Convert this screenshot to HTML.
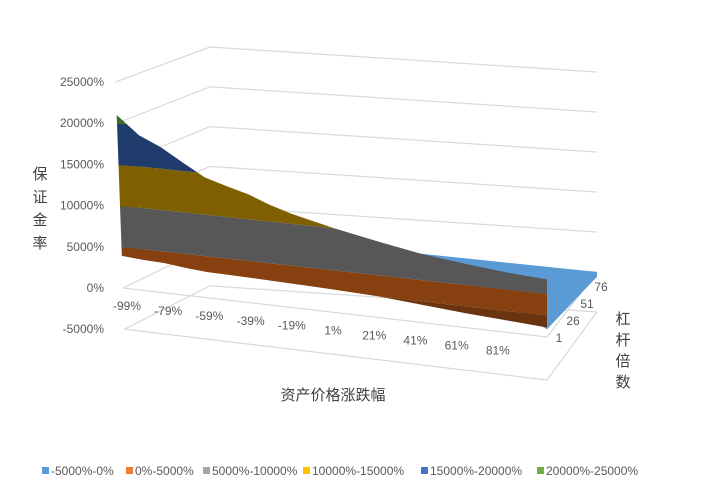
<!DOCTYPE html>
<html><head><meta charset="utf-8">
<style>
html,body{margin:0;padding:0;background:#fff;}
body{width:725px;height:504px;overflow:hidden;position:relative;font-family:"Liberation Sans","Noto Sans CJK SC",sans-serif;}
svg{position:absolute;left:0;top:0;}
.lbl{font-family:"Liberation Sans","Noto Sans CJK SC",sans-serif;font-size:12px;fill:#595959;}
.ttl{font-family:"Liberation Sans","Noto Sans CJK SC",sans-serif;font-size:15px;fill:#404040;}
</style></head>
<body>
<svg id="chart" width="725" height="504" viewBox="0 0 725 504" xmlns="http://www.w3.org/2000/svg">
<defs><clipPath id="curtainClip"><path id="clipPath" d=""/></clipPath></defs>
<g id="grid"></g>
<g id="surface"></g>
<g id="labels"></g>
<g id="legend"></g>
</svg>
<script>
const zTicks = [25000, 20000, 15000, 10000, 5000, 0, -5000];
const zTickLabels = ["25000%","20000%","15000%","10000%","5000%","0%","-5000%"];
const priceCats = [-99,-89,-79,-69,-59,-49,-39,-29,-19,-9,1,21,41,61,81,100];
const topZ = [21000,18800,17600,16000,14500,13700,13000,12000,11200,10600,10000,9000,8100,7500,7000,6700];
const bottomZ = [3900,3700,3600,3300,3100,3050,3000,2920,2850,2780,2700,2500,2100,1700,1400,1100];
const xTickLabels = ["-99%","-79%","-59%","-39%","-19%","1%","21%","41%","61%","81%"];
const xTickValues = [-99,-79,-59,-39,-19,1,21,41,61,81];
const depthLabels = ["1","26","51","76"];
const bandLows = [-5000,0,2500,5000,10000,15000,20000];
const bandHighs = [0,2500,5000,10000,15000,20000,25000];
const bandColors = ["#5b9bd5","#6b3410","#87400f","#575757","#7f6000","#203c6c","#3d6b2a"];
const legendNames = ["-5000%-0%","0%-5000%","5000%-10000%","10000%-15000%","15000%-20000%","20000%-25000%"];
const legendColors = ["#5b9bd5","#ed7d31","#a5a5a5","#ffc000","#4472c4","#70ad47"];

const NS="http://www.w3.org/2000/svg";
function el(tag, attrs){const e=document.createElementNS(NS,tag);for(const k in attrs)e.setAttribute(k,attrs[k]);return e;}
// 3D projection: u along price, v along leverage depth, z value
const C={FL:[123,288,8.24],FR:[547,337,8.6],BL:[210,246,7.96],BR:[597,272,8.0]};
function proj3(u,v,z){
  const w=[(1-u)*(1-v),u*(1-v),(1-u)*v,u*v],P=[C.FL,C.FR,C.BL,C.BR];
  let x=0,y=0,s=0;for(let i=0;i<4;i++){x+=w[i]*P[i][0];y+=w[i]*P[i][1];s+=w[i]*P[i][2];}
  return [x - z*0.0003*(1-u)*(1-v), y - z*s/1000];
}
function uOf(p){return (p+99)/199;}
function front(u,z){return proj3(u,0,z);}

// gridlines
const grid=document.getElementById('grid');
zTicks.forEach((z,i)=>{
  const a=proj3(0,0,z),b=proj3(0,1,z),c=proj3(1,1,z);
  const pl=el('polyline',{points:`${a[0]},${a[1]} ${b[0]},${b[1]} ${c[0]},${c[1]}`,fill:'none',stroke:'#d9d9d9','stroke-width':1.2});
  
  
  grid.appendChild(pl);
});
[0,-5000].forEach(z=>{
  const a=proj3(0,0,z),b=proj3(1,0,z),c=proj3(1,1,z);
  const pl=el('polyline',{points:`${a[0]},${a[1]} ${b[0]},${b[1]} ${c[0]},${c[1]}`,fill:'none',stroke:'#d9d9d9','stroke-width':1.2});
  
  
  grid.appendChild(pl);
});

// surface
const surf=document.getElementById('surface');
// blue back-right region (negative values, behind curtain)
const iBlue=priceCats.indexOf(41);
const bp=[front(uOf(41),topZ[iBlue]),proj3(1,1,0),proj3(1,1,-600),front(1,bottomZ[bottomZ.length-1]-200)];
const blue=el('polygon',{points:bp.map(p=>p.join(',')).join(' '),fill:bandColors[0]});


surf.appendChild(blue);

let d='';
priceCats.forEach((p,i)=>{const q=front(uOf(p),topZ[i]);d+=(i?'L':'M')+q[0]+','+q[1];});
for(let i=priceCats.length-1;i>=0;i--){const q=front(uOf(priceCats[i]),bottomZ[i]);d+='L'+q[0]+','+q[1];}
d+='Z';
document.getElementById('clipPath').setAttribute('d',d);
const bandG=el('g',{'clip-path':'url(#curtainClip)'});


surf.appendChild(bandG);
for(let b=1;b<bandLows.length;b++){
  const pts=[];
  for(let k=0;k<=20;k++){pts.push(front(k/20,bandLows[b]));}
  for(let k=20;k>=0;k--){pts.push(front(k/20,bandHighs[b]));}
  pts.forEach(pt=>{});
  const pg=el('polygon',{points:pts.map(pt=>(pt[0]+(pt===pts[0]?-10:0))+','+pt[1]).join(' '),fill:bandColors[b]});
  
  
  bandG.appendChild(pg);
}
// extend clip area left slightly
const edge=el('path',{d:d,fill:'none',stroke:'none'});
surf.appendChild(edge);

// labels
const L=document.getElementById('labels');
zTicks.forEach((z,i)=>{
  const a=proj3(0,0,z);
  const t=el('text',{x:104,y:a[1]+4,'text-anchor':'end',class:'lbl'});t.textContent=zTickLabels[i];
  
  
  L.appendChild(t);
});
xTickValues.forEach((p,i)=>{
  const u=uOf(p);
  const t=el('text',{x:127+u*410,y:310+u*49,'text-anchor':'middle',class:'lbl'});t.textContent=xTickLabels[i];
  
  
  L.appendChild(t);
});
depthLabels.forEach((s,i)=>{
  const v=i/(depthLabels.length-1);
  const t=el('text',{x:559+v*42,y:342-v*51,'text-anchor':'middle',class:'lbl'});t.textContent=s;
  
  
  L.appendChild(t);
});
["保","证","金","率"].forEach((c,i)=>{
  const t=el('text',{x:40,y:179+i*23,'text-anchor':'middle',class:'ttl'});t.textContent=c;
  
  
  L.appendChild(t);
});
["杠","杆","倍","数"].forEach((c,i)=>{
  const t=el('text',{x:623,y:324+i*21,'text-anchor':'middle',class:'ttl'});t.textContent=c;
  
  
  L.appendChild(t);
});
const xt=el('text',{x:333,y:400,'text-anchor':'middle',class:'ttl'});xt.textContent="资产价格涨跌幅";


L.appendChild(xt);

// legend
const LG=document.getElementById('legend');
const legX=[42,126,203,303,421,537];
legendNames.forEach((n,i)=>{
  const g=el('g',{});
  
  
  const r=el('rect',{x:legX[i],y:467,width:7,height:7,fill:legendColors[i]});
  
  
  const t=el('text',{x:legX[i]+9,y:475,class:'lbl'});t.textContent=n;
  
  
  g.appendChild(r);g.appendChild(t);LG.appendChild(g);
});
</script>
</body></html>
